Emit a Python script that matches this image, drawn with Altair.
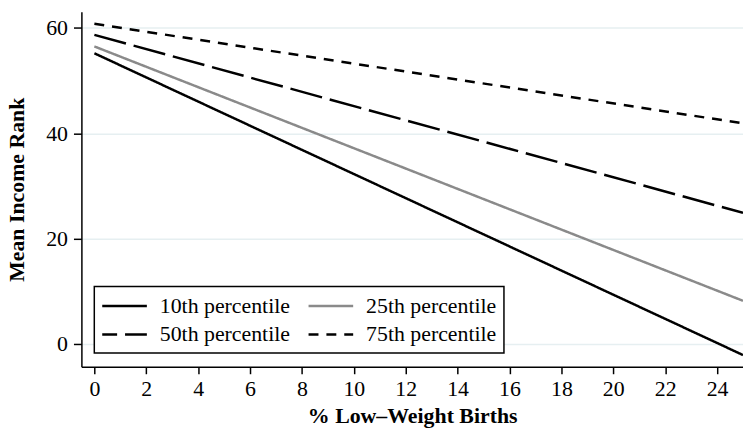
import altair as alt
import pandas as pd

# Data (straight fitted lines, endpoints at x=0 and x=25)
x_vals = [0, 25]
series = ["10th percentile", "25th percentile", "50th percentile", "75th percentile"]
p10 = [55.2, -2.1]
p25 = [56.5, 8.2]
p50 = [58.7, 24.9]
p75 = [60.8, 41.9]
x_ticks = list(range(0, 25, 2))
y_ticks = [0, 20, 40, 60]

rows = []
for name, ys in zip(series, [p10, p25, p50, p75]):
    for xv, yv in zip(x_vals, ys):
        rows.append({"x": xv, "y": yv, "series": name})
df = pd.DataFrame(rows)

FONT = "Liberation Serif"

legend = alt.Legend(
    title=None,
    orient="none",
    legendX=13,
    legendY=277,
    columns=2,
    direction="horizontal",
    symbolType="M-2,0H2",
    symbolSize=506,
    symbolStrokeWidth=2.5,
    symbolOffset=11,
    symbolDashOffset=18,
    labelFont=FONT,
    labelFontSize=22,
    labelColor="black",
    labelLimit=0,
    labelOffset=23,
    strokeColor="black",
    fillColor="white",
    padding=7,
    rowPadding=5,
    columnPadding=13,
    cornerRadius=0,
)

chart = alt.Chart(df).mark_line(strokeWidth=2.5, clip=True).encode(
    x=alt.X(
        "x:Q",
        scale=alt.Scale(domain=[-0.5, 25], nice=False, zero=False),
        axis=alt.Axis(
            values=x_ticks,
            title="% Low–Weight Births",
            grid=False,
            tickSize=7,
            labelPadding=5,
            titlePadding=6,
        ),
    ),
    y=alt.Y(
        "y:Q",
        scale=alt.Scale(domain=[-4.33, 63.1], nice=False, zero=False),
        axis=alt.Axis(
            values=y_ticks,
            title="Mean Income Rank",
            grid=True,
            gridColor="#e6eff1",
            gridWidth=1.5,
            tickSize=8,
            labelPadding=6,
            titlePadding=17,
        ),
    ),
    color=alt.Color(
        "series:N",
        scale=alt.Scale(domain=series, range=["black", "#8a8a8a", "black", "black"]),
        legend=legend,
    ),
    strokeDash=alt.StrokeDash(
        "series:N",
        scale=alt.Scale(domain=series, range=[[1, 0], [1, 0], [33, 8], [10, 8]]),
        legend=legend,
    ),
).properties(
    width=667,
    height=358,
    autosize=alt.AutoSizeParams(type="none"),
    padding={"left": 74, "top": 2, "right": 0, "bottom": 60},
).configure(
    font=FONT
).configure_view(
    stroke=None
).configure_axis(
    domainColor="black",
    domainWidth=1.5,
    tickColor="black",
    tickWidth=1.5,
    labelFont=FONT,
    labelFontSize=22,
    labelColor="black",
    titleFont=FONT,
    titleFontSize=22,
    titleFontWeight="bold",
    titleColor="black",
).configure_legend(
    strokeWidth=1.5
)

chart.save("out.html", embed_options={"renderer": "svg", "actions": False})
